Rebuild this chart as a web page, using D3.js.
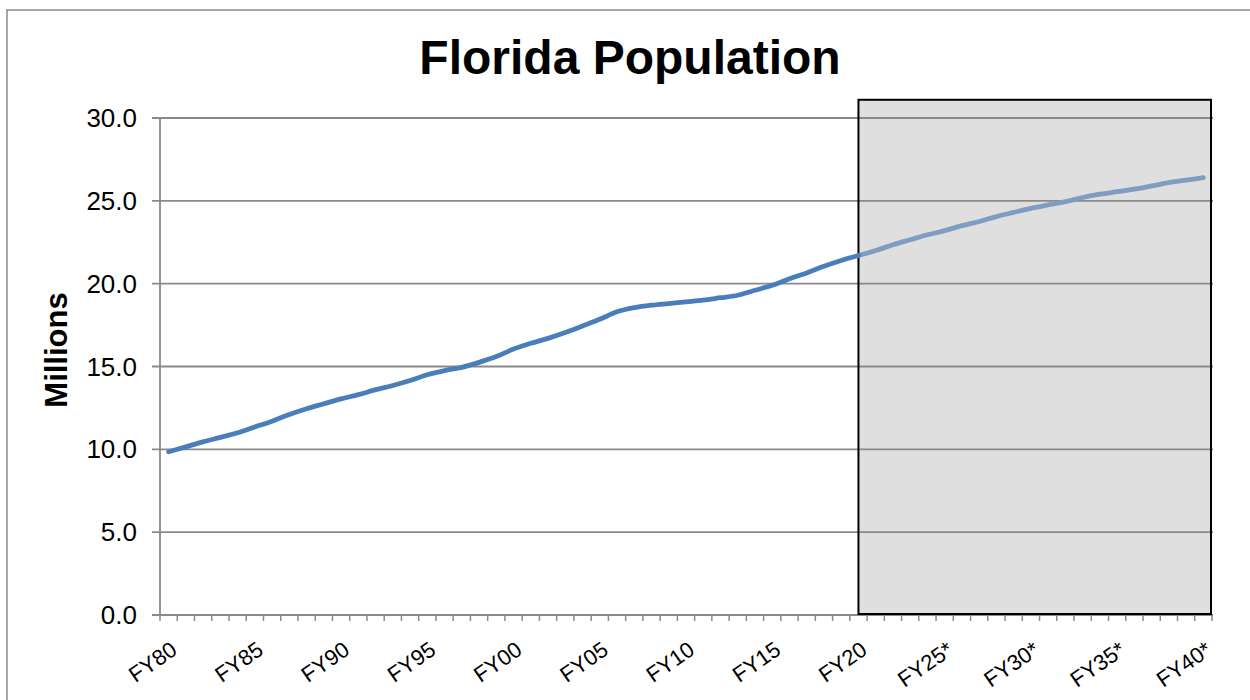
<!DOCTYPE html>
<html>
<head>
<meta charset="utf-8">
<script src="https://cdn.jsdelivr.net/npm/d3@7"></script>
<style>
  html, body { margin: 0; padding: 0; background: #fff; }
  svg { display: block; font-family: "Liberation Sans", Arial, sans-serif; }
</style>
</head>
<body>
<svg id="chart" width="1250" height="700"></svg>
<script>
// ---- Data ----
const years = d3.range(1980, 2041);
const categories = years.map(y => "FY" + String(y % 100).padStart(2, "0") + (y > 2020 ? "*" : ""));
const population = [
  9.85, 10.15, 10.45, 10.72, 11.0, 11.35, 11.7, 12.1, 12.45, 12.75,
  13.05, 13.3, 13.6, 13.85, 14.15, 14.5, 14.75, 14.95, 15.25, 15.6,
  16.05, 16.4, 16.7, 17.05, 17.45, 17.85, 18.3, 18.55, 18.7, 18.8,
  18.9, 19.0, 19.15, 19.3, 19.6, 19.9, 20.3, 20.65, 21.05, 21.4,
  21.7, 22.0, 22.35, 22.65, 22.95, 23.2, 23.5, 23.75, 24.05, 24.3,
  24.55, 24.75, 24.95, 25.2, 25.4, 25.55, 25.7, 25.9, 26.1, 26.25,
  26.4
];
const projectionStart = "FY20";
const yTicks = [0, 5, 10, 15, 20, 25, 30];
const labelEvery = 5;
const shadeTop = 31.1;

// ---- Layout ----
const svg = d3.select("#chart");
const pLeft = 160, pRight = 1212, pTop = 118, pBottom = 615;

const x = d3.scaleBand().domain(categories).range([pLeft, pRight]).padding(0);
const cx = c => x(c) + x.bandwidth() / 2;
const y = d3.scaleLinear().domain([0, 30]).range([pBottom, pTop]);

// outer border
svg.append("rect").attr("x", 7).attr("y", 10).attr("width", 1260).attr("height", 720)
  .attr("fill", "none").attr("stroke", "#8c8c8c").attr("stroke-width", 1.5);

// title
svg.append("text").attr("x", 630).attr("y", 74).attr("text-anchor", "middle")
  .attr("font-size", 48).attr("font-weight", "bold").attr("fill", "#000")
  .text("Florida Population");

// shaded projection box (fill)
const shadeX0 = cx(projectionStart);
svg.append("rect").attr("x", shadeX0).attr("y", y(shadeTop))
  .attr("width", pRight - 1 - shadeX0).attr("height", y(0) - y(shadeTop))
  .attr("fill", "#dfdfdf");

// gridlines + y ticks
svg.append("g").selectAll("line").data(yTicks).join("line")
  .attr("x1", pLeft - 8).attr("x2", pRight + 1)
  .attr("y1", d => y(d)).attr("y2", d => y(d))
  .attr("stroke", "#8a8a8a").attr("stroke-width", 1.8);

svg.append("g").selectAll("text").data(yTicks).join("text")
  .attr("x", 137).attr("y", d => y(d)).attr("dy", "0.35em")
  .attr("text-anchor", "end").attr("font-size", 26).attr("fill", "#000")
  .text(d => d3.format(".1f")(d));

// y axis line
svg.append("line").attr("x1", pLeft).attr("x2", pLeft).attr("y1", pTop).attr("y2", pBottom)
  .attr("stroke", "#8a8a8a").attr("stroke-width", 1.8);

// x tick marks at band boundaries
const tickXs = categories.map(c => x(c)).concat([pRight]);
svg.append("g").selectAll("line").data(tickXs).join("line")
  .attr("x1", d => d).attr("x2", d => d).attr("y1", pBottom).attr("y2", pBottom + 6)
  .attr("stroke", "#8a8a8a").attr("stroke-width", 1.5);

// x labels
svg.append("g").selectAll("text")
  .data(categories.filter((c, i) => i % labelEvery === 0)).join("text")
  .attr("text-anchor", "end").attr("font-size", 22).attr("fill", "#000")
  .attr("transform", c => `translate(${cx(c) + 10},${pBottom + 38}) rotate(-35)`)
  .text(c => c);

// shaded box stroke
svg.append("rect").attr("x", shadeX0).attr("y", y(shadeTop))
  .attr("width", pRight - 1 - shadeX0).attr("height", y(0) - y(shadeTop) - 1)
  .attr("fill", "none").attr("stroke", "#000").attr("stroke-width", 2);

// y axis title
svg.append("text").attr("transform", `translate(67,350) rotate(-90)`)
  .attr("text-anchor", "middle").attr("font-size", 31).attr("font-weight", "bold")
  .text("Millions");

// lines
const pts = categories.map((c, i) => ({ c, v: population[i], i }));
const splitIdx = categories.indexOf(projectionStart);
const line = d3.line().x(d => cx(d.c)).y(d => y(d.v)).curve(d3.curveMonotoneX);

svg.append("path").datum(pts.slice(splitIdx))
  .attr("d", line).attr("fill", "none").attr("stroke", "#7f9cc2")
  .attr("stroke-width", 4.8).attr("stroke-linecap", "round").attr("stroke-linejoin", "round");
svg.append("path").datum(pts.slice(0, splitIdx + 1))
  .attr("d", line).attr("fill", "none").attr("stroke", "#4a7ebb")
  .attr("stroke-width", 4.8).attr("stroke-linecap", "round").attr("stroke-linejoin", "round");
</script>
</body>
</html>
